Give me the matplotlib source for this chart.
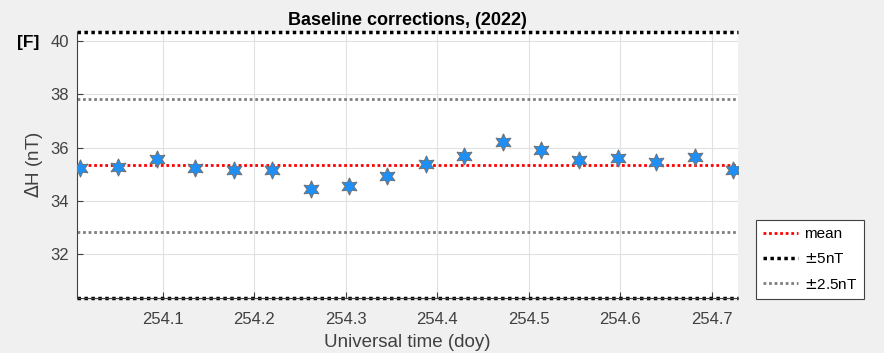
import matplotlib.pyplot as plt
import numpy as np

plt.rcParams["font.family"] = ["Liberation Sans", "DejaVu Sans"]

# hourly baseline values, day of year 254 (2022)
doy_start = 254.0096
doy_step = 0.042
delta_h = [35.25, 35.28, 35.58, 35.25, 35.16, 35.14, 34.44, 34.56, 34.95,
           35.39, 35.70, 36.20, 35.91, 35.54, 35.61, 35.47, 35.64, 35.14]
x_ticks = [254.1, 254.2, 254.3, 254.4, 254.5, 254.6, 254.7]
y_ticks = [32, 34, 36, 38, 40]

doy = doy_start + doy_step * np.arange(len(delta_h))
mean_h = np.mean(delta_h)

fig = plt.figure(figsize=(8.84, 3.53), dpi=100, facecolor="#f0f0f0")
ax = fig.add_axes([77.3 / 884, 1 - 298 / 353, (737.7 - 77.3) / 884, (298 - 32) / 353])
ax.set_facecolor("white")

ax.set_xlim(doy[0] - 0.003, doy[-1] + 0.005)
ax.set_ylim(mean_h - 5, mean_h + 5)

ax.grid(True, color="#e1e1e1", linewidth=0.8)
ax.set_axisbelow(True)

ax.plot(doy, delta_h, linestyle="none", marker=(6, 1, 0), markersize=12.5,
        markerfacecolor="#1e90f5", markeredgecolor="#707070",
        markeredgewidth=0.7, zorder=5)

ax.axhline(mean_h, color="red", linestyle=(0, (1, 1)), linewidth=2, label="mean")
ax.axhline(mean_h + 5, color="black", linestyle=(0, (1, 1)), linewidth=2.5,
           label=r"$\pm$5nT", clip_on=False)
ax.axhline(mean_h - 5, color="black", linestyle=(0, (1, 1)), linewidth=2.5,
           clip_on=False)
ax.axhline(mean_h + 2.5, color="#7f7f7f", linestyle=(0, (1, 1)), linewidth=2,
           label=r"$\pm$2.5nT")
ax.axhline(mean_h - 2.5, color="#7f7f7f", linestyle=(0, (1, 1)), linewidth=2)

ax.set_xticks(x_ticks)
ax.set_yticks(y_ticks)
ax.tick_params(direction="in", length=4, labelsize=12, colors="#404040",
               top=False, right=False)
ax.tick_params(axis="x", pad=10)
ax.tick_params(axis="y", pad=6)
for side in ["top", "right"]:
    ax.spines[side].set_visible(False)
for side in ["left", "bottom"]:
    ax.spines[side].set_color("#404040")

ax.set_xlabel("Universal time (doy)", fontsize=13.5, color="#404040", labelpad=5)
ax.set_ylabel(r"$\Delta$H (nT)", fontsize=13.5, color="#404040", labelpad=4)
ax.set_title("Baseline corrections, (2022)", fontsize=13, fontweight="bold",
             pad=5)

fig.text(28 / 884, 1 - 42 / 353, "[F]", fontsize=12.5, fontweight="bold",
         ha="center", va="center")

leg = fig.legend(loc="upper left", bbox_to_anchor=(756 / 884, 1 - 220 / 353),
                 borderaxespad=0, fontsize=11, frameon=True, fancybox=False,
                 edgecolor="#404040", handlelength=2.3, borderpad=0.45,
                 labelspacing=0.75, handletextpad=0.4, framealpha=1)
leg.get_frame().set_linewidth(0.8)

fig.savefig("out.png", dpi=100, facecolor=fig.get_facecolor())
